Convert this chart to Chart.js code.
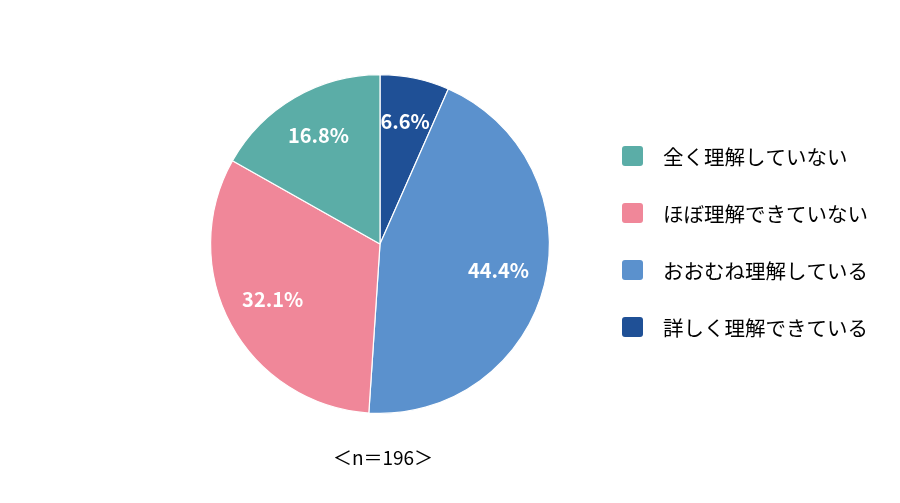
<!DOCTYPE html>
<html lang="ja">
<head>
<meta charset="utf-8">
<script src="https://cdn.jsdelivr.net/npm/chart.js@4/dist/chart.umd.min.js"></script>
<style>
  html, body { margin: 0; padding: 0; background: #fff; }
  #wrap { width: 900px; height: 503px; }
</style>
</head>
<body>
<div id="wrap"><canvas id="pie" width="900" height="503"></canvas></div>
<script>
// slices clockwise from 12 o'clock
const categories = ['詳しく理解できている', 'おおむね理解している', 'ほぼ理解できていない', '全く理解していない'];
const shares = [6.6, 44.4, 32.1, 16.8];
const sliceColors = ['#1F5096', '#5B91CD', '#F08799', '#5BADA7'];
const sampleNote = '＜n＝196＞';

const JP_FONT = '"Noto Sans CJK JP", "Noto Sans", sans-serif';

// percent labels inside each slice
const sliceLabels = {
    id: 'sliceLabels',
    afterDatasetsDraw(chart){
        const {ctx} = chart;
        const meta = chart.getDatasetMeta(0);
        ctx.save();
        ctx.fillStyle = '#fff';
        ctx.font = 'bold 20px ' + JP_FONT;
        ctx.textAlign = 'center';
        ctx.textBaseline = 'middle';
        meta.data.forEach((arc, i)=>{
            const {x, y, startAngle, endAngle, outerRadius} = arc.getProps(['x','y','startAngle','endAngle','outerRadius'], true);
            const mid = (startAngle + endAngle) / 2;
            const r = outerRadius * 0.72;
            ctx.fillText(shares[i].toFixed(1) + '%', x + Math.cos(mid) * r, y + Math.sin(mid) * r - 3);
        });
        ctx.restore();
    }
};

// legend on the right (reverse order) and the n note under the pie
const sideLegend = {
    id: 'sideLegend',
    afterDraw(chart){
        const {ctx, chartArea} = chart;
        ctx.save();
        ctx.font = '20.5px ' + JP_FONT;
        ctx.textBaseline = 'middle';
        ctx.textAlign = 'left';
        const order = categories.map((c, i)=>i).reverse();
        order.forEach((idx, row)=>{
            const cy = 156 + row * 57;
            ctx.fillStyle = sliceColors[idx];
            ctx.beginPath();
            ctx.roundRect(622, cy - 10, 21, 20, 3);
            ctx.fill();
            ctx.fillStyle = '#000';
            ctx.fillText(categories[idx], 663, cy + 1);
        });
        ctx.textAlign = 'center';
        ctx.font = '19px ' + JP_FONT;
        ctx.fillText(sampleNote, (chartArea.left + chartArea.right) / 2 + 3, 458);
        ctx.restore();
    }
};

new Chart(document.getElementById('pie'), {
    type: 'pie',
    data: {
        labels: categories,
        datasets: [{
            data: shares,
            backgroundColor: sliceColors,
            borderColor: '#fff',
            borderWidth: 1.2
        }]
    },
    options: {
        responsive: false,
        animation: false,
        layout: { padding: { left: 210, right: 350, top: 73, bottom: 88 } },
        plugins: {
            legend: { display: false },
            tooltip: { enabled: false }
        }
    },
    plugins: [sliceLabels, sideLegend]
});
</script>
</body>
</html>
